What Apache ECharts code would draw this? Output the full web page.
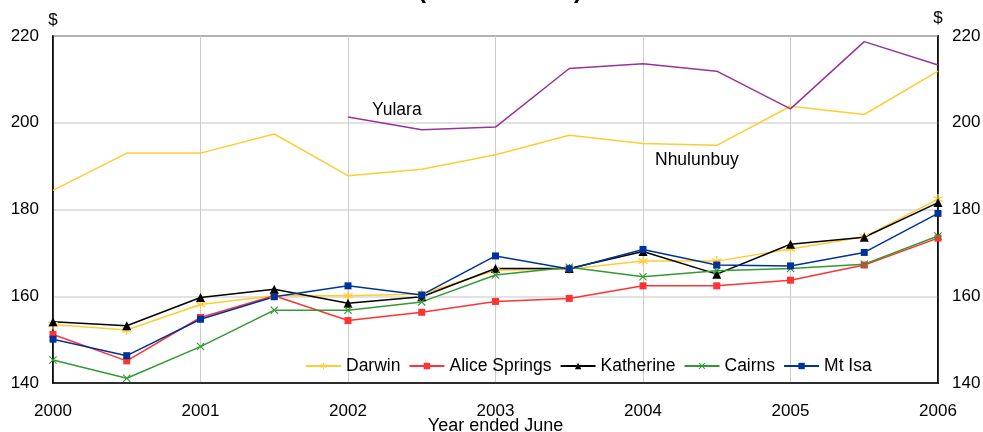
<!DOCTYPE html>
<html><head><meta charset="utf-8">
<script src="https://cdn.jsdelivr.net/npm/echarts@6/dist/echarts.min.js"></script>
<style>html,body{margin:0;padding:0;background:#fff}#c{width:983px;height:432px}</style>
</head><body><div id="c"></div>
<script>
const years = [2000,2000.5,2001,2001.5,2002,2002.5,2003,2003.5,2004,2004.5,2005,2005.5,2006];
const yTicks = [140,160,180,200,220];
const xTicks = [2000,2001,2002,2003,2004,2005,2006];
const darwin    = [153.5,152.2,158.1,160.1,160.1,160.5,166.0,166.3,168.1,168.1,170.9,173.7,182.4];
const alice     = [151.2,145.1,155.1,160.1,154.4,156.3,158.8,159.5,162.4,162.4,163.7,167.2,173.4];
const katherine = [154.1,153.2,159.7,161.6,158.4,159.9,166.4,166.4,170.3,165.1,172.0,173.6,181.6];
const cairns    = [145.3,141.1,148.4,156.8,156.8,158.7,164.9,166.7,164.5,165.9,166.4,167.4,173.9];
const mtIsa     = [150.1,146.3,154.7,159.9,162.4,160.3,169.3,166.3,170.8,167.2,167.0,170.1,179.1];
const yulara    = [null,null,null,null,201.3,198.4,199.0,212.5,213.6,211.9,203.2,218.7,213.3];
const nhulunbuy = [184.4,193.0,193.0,197.4,187.8,189.3,192.6,197.1,195.2,194.8,203.8,201.9,211.9];

const pair = arr => years.map((x,i)=>[x,arr[i]]);
const xSym = 'path://M0,1 L1,0 L5,4 L9,0 L10,1 L6,5 L10,9 L9,10 L5,6 L1,10 L0,9 L4,5 Z';
const starSym = 'path://M4.4,0 L5.6,0 L5.6,3.9 L9.0,2.0 L9.6,3.0 L6.2,5.0 L9.6,7.0 L9.0,8.0 L5.6,6.1 L5.6,10 L4.4,10 L4.4,6.1 L1.0,8.0 L0.4,7.0 L3.8,5.0 L0.4,3.0 L1.0,2.0 L4.4,3.9 Z';
const FF = 'Liberation Sans';

function mk(name, data, color, symbol, size){
  return {name, type:'line', data:pair(data), symbol, symbolSize:size, showSymbol:true,
    lineStyle:{color, width:1.5}, itemStyle:{color}, connectNulls:false, z:3, animation:false};
}
const chart = echarts.init(document.getElementById('c'));
const axisLabel = {fontSize:17, color:'#000', fontFamily:FF};
chart.setOption({
  animation:false,
  grid:{left:53,right:45,top:36,bottom:49,show:true,borderColor:'#000',borderWidth:1.5,backgroundColor:'transparent',
    containLabel:false, outerBoundsMode:'none'},
  graphic:[
    {type:'text', left:418, top:-21, style:{text:'(Median rents)', font:'bold 24px '+FF, fill:'#000'}},
    {type:'text', left:372, top:101, style:{text:'Yulara', font:'17.5px '+FF, fill:'#000'}},
    {type:'text', left:655, top:151, style:{text:'Nhulunbuy', font:'17.5px '+FF, fill:'#000'}}
  ],
  legend:{data:['Darwin','Alice Springs','Katherine','Cairns','Mt Isa'], left:305, top:357, padding:0, itemGap:8, itemWidth:35, itemHeight:8,
    textStyle:{fontSize:17.5, color:'#000', fontFamily:FF}},
  xAxis:{type:'value', min:2000, max:2006, interval:1,
    name:'Year ended June', nameLocation:'middle', nameGap:34, nameMoveOverlap:false,
    nameTextStyle:{fontSize:18, color:'#000', fontFamily:FF, verticalAlign:'top'},
    axisLine:{lineStyle:{color:'#000', width:1.5}}, axisTick:{show:false},
    axisLabel:Object.assign({margin:20, formatter:v=>xTicks.includes(v)?String(v):''}, axisLabel),
    splitLine:{show:true, lineStyle:{color:'#cccccc', width:1}}},
  yAxis:[
    {type:'value', min:140, max:220, interval:20, position:'left', name:'$', nameGap:7,
     nameTextStyle:{fontSize:17, color:'#000', fontFamily:FF, align:'center'},
     axisLine:{show:true, lineStyle:{color:'#000', width:1.5}}, axisTick:{show:false},
     axisLabel:Object.assign({margin:14, formatter:v=>yTicks.includes(v)?String(v):''}, axisLabel),
     splitLine:{show:true, lineStyle:{color:'#d9d9d9', width:1.5}}},
    {type:'value', min:140, max:220, interval:20, position:'right', name:'$', nameGap:9,
     nameTextStyle:{fontSize:17, color:'#000', fontFamily:FF, align:'center'},
     axisLine:{show:true, lineStyle:{color:'#000', width:1.5}}, axisTick:{show:false},
     axisLabel:Object.assign({margin:14, formatter:v=>yTicks.includes(v)?String(v):''}, axisLabel),
     splitLine:{show:false}}
  ],
  series:[
    {name:'Nhulunbuy', type:'line', data:pair(nhulunbuy), showSymbol:false, symbol:'none', lineStyle:{color:'#ffcc33', width:1.5}, itemStyle:{color:'#ffcc33'}, z:2},
    {name:'Yulara', type:'line', data:pair(yulara), showSymbol:false, symbol:'none', lineStyle:{color:'#993399', width:1.5}, itemStyle:{color:'#993399'}, z:2},
    mk('Darwin', darwin, '#ffcc33', starSym, 10),
    mk('Alice Springs', alice, '#ff3333', 'rect', 7),
    mk('Katherine', katherine, '#000000', 'triangle', 9),
    mk('Cairns', cairns, '#339933', xSym, 8),
    mk('Mt Isa', mtIsa, '#003399', 'rect', 7)
  ]
});
</script></body></html>
